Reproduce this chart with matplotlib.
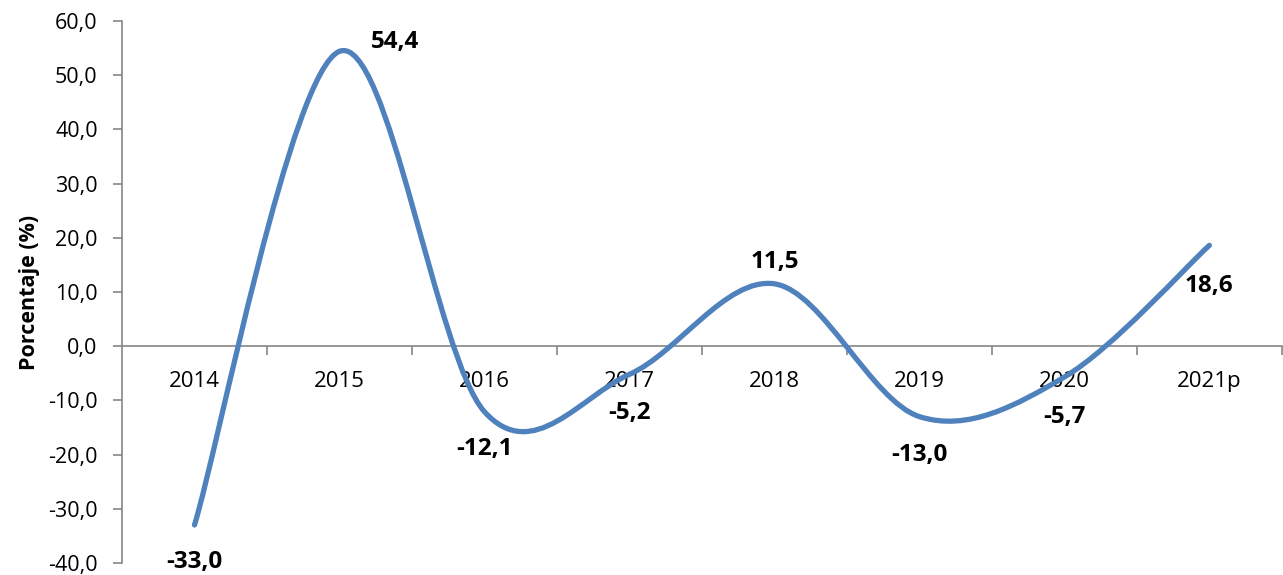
import numpy as np
import matplotlib.pyplot as plt
from matplotlib.path import Path
from matplotlib.patches import PathPatch
from matplotlib.ticker import FuncFormatter, FixedLocator

plt.rcParams['font.family'] = ['Open Sans', 'DejaVu Sans']
plt.rcParams['axes.unicode_minus'] = False

# data
years = ['2014', '2015', '2016', '2017', '2018', '2019', '2020', '2021p']
values = [-33.0, 54.4, -12.1, -5.2, 11.5, -13.0, -5.7, 18.6]

# label offsets (points) for the data labels
lab_dx = [0, 40, 0, 0, 0, 0, 0, 0]
lab_dy = [-27, 7, -27, -28, 16, -28, -29, -29]

x = np.arange(len(values), dtype=float)
y = np.array(values)

fig = plt.figure(figsize=(12.83, 5.75), dpi=100)
ax = fig.add_axes([0.0951, 0.021, 0.904, 0.9425])

# smoothed line (catmull-rom style bezier, like excel's smooth line)
pts = np.column_stack([x, y])
ext = np.vstack([pts[0], pts, pts[-1]])
verts = [tuple(pts[0])]
codes = [Path.MOVETO]
for i in range(len(pts) - 1):
    p0, p1, p2, p3 = ext[i], ext[i + 1], ext[i + 2], ext[i + 3]
    c1 = p1 + (p2 - p0) / 6.0
    c2 = p2 - (p3 - p1) / 6.0
    verts += [tuple(c1), tuple(c2), tuple(p2)]
    codes += [Path.CURVE4] * 3
patch = PathPatch(Path(verts, codes), facecolor='none', edgecolor='#4F81BD',
                  lw=3.8, capstyle='round', joinstyle='round', zorder=3)
ax.add_patch(patch)

# data labels
for i, v in enumerate(values):
    ax.annotate(f'{v:.1f}'.replace('.', ','), (x[i], v),
                xytext=(lab_dx[i], lab_dy[i]), textcoords='offset points',
                ha='center', va='center', fontsize=17.5, fontweight='bold',
                color='black', annotation_clip=False)

ax.set_xlim(-0.5, len(values) - 0.5)
ax.set_ylim(-40, 60)

# axes styling
gray = '#868686'
for s in ['top', 'right']:
    ax.spines[s].set_visible(False)
ax.spines['left'].set_color(gray)
ax.spines['bottom'].set_color(gray)
ax.spines['bottom'].set_position(('data', 0))
ax.spines['left'].set_linewidth(1.2)
ax.spines['bottom'].set_linewidth(1.2)

ax.set_yticks(np.arange(-40, 61, 10))
ax.yaxis.set_major_formatter(FuncFormatter(lambda v, p: f'{v:.1f}'.replace('.', ',')))
ax.tick_params(axis='y', length=6.5, width=1.2, color=gray, pad=11, labelsize=15.5)

ax.xaxis.set_major_locator(FixedLocator(np.arange(0.5, len(values), 1.0)))
ax.xaxis.set_minor_locator(FixedLocator(x))
ax.set_xticklabels([], minor=False)
ax.set_xticklabels(years, minor=True)
ax.tick_params(axis='x', which='major', length=6.5, width=1.2, color=gray, direction='out')
ax.tick_params(axis='x', which='minor', length=0, pad=18, labelsize=16)

ax.set_ylabel('Porcentaje (%)', fontsize=15.5, fontweight='bold', labelpad=6)

fig.savefig('out.png', dpi=100)
